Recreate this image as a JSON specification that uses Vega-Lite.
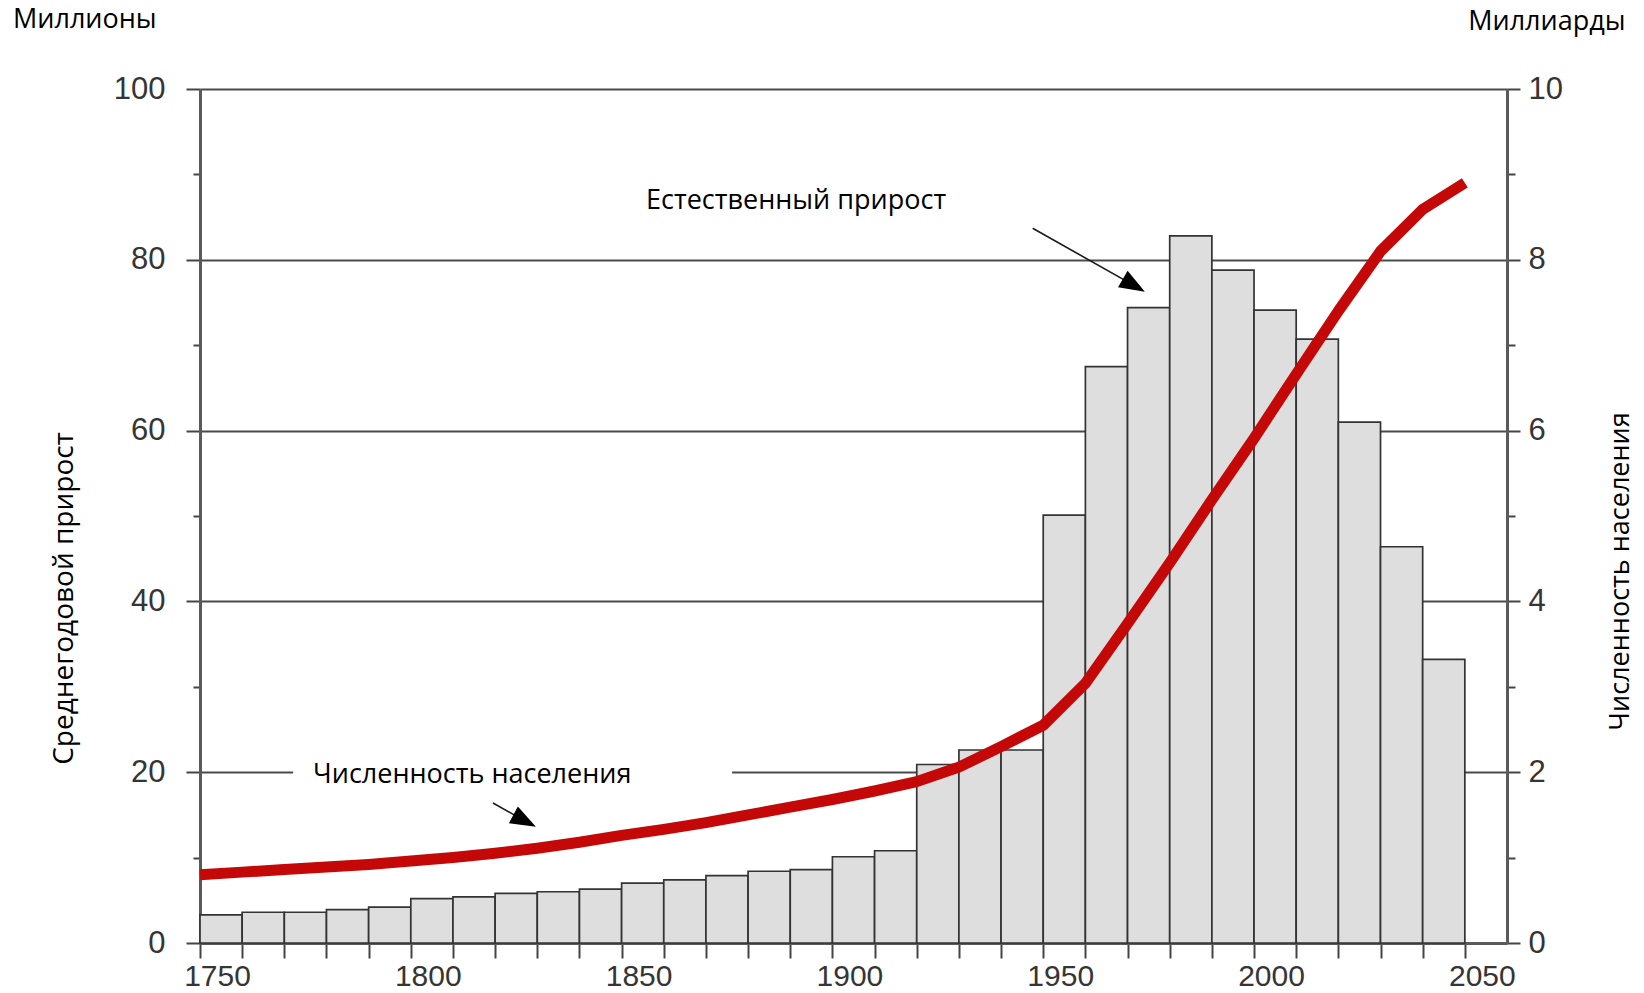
{
  "$schema": "https://vega.github.io/schema/vega-lite/v6.json",
  "width": 1307,
  "height": 854,
  "autosize": {"type": "none"},
  "padding": {"left": 200, "top": 89, "right": 137, "bottom": 50},
  "background": "white",
  "config": {
    "view": {"stroke": null},
    "axis": {
      "labelFont": "Liberation Sans",
      "labelFontSize": 31,
      "labelColor": "#353535",
      "domainColor": "#5a5a5a",
      "domainWidth": 3,
      "tickColor": "#444444",
      "tickWidth": 2,
      "titleFont": "Open Sans",
      "titleFontSize": 27,
      "titleFontWeight": "normal",
      "titleColor": "#000000"
    }
  },
  "title": {
    "text": "Миллионы",
    "anchor": "start",
    "frame": "group",
    "orient": "top",
    "dx": -187,
    "offset": -48,
    "baseline": "alphabetic",
    "font": "Open Sans",
    "fontSize": 27,
    "fontWeight": "normal",
    "color": "#000000"
  },
  "datasets": {
    "growth": [
      {"start": 1750, "end": 1760, "growth": 3.3},
      {"start": 1760, "end": 1770, "growth": 3.6},
      {"start": 1770, "end": 1780, "growth": 3.6},
      {"start": 1780, "end": 1790, "growth": 3.9},
      {"start": 1790, "end": 1800, "growth": 4.2},
      {"start": 1800, "end": 1810, "growth": 5.2},
      {"start": 1810, "end": 1820, "growth": 5.4},
      {"start": 1820, "end": 1830, "growth": 5.8},
      {"start": 1830, "end": 1840, "growth": 6.0},
      {"start": 1840, "end": 1850, "growth": 6.3},
      {"start": 1850, "end": 1860, "growth": 7.0},
      {"start": 1860, "end": 1870, "growth": 7.4},
      {"start": 1870, "end": 1880, "growth": 7.9},
      {"start": 1880, "end": 1890, "growth": 8.4},
      {"start": 1890, "end": 1900, "growth": 8.6},
      {"start": 1900, "end": 1910, "growth": 10.1},
      {"start": 1910, "end": 1920, "growth": 10.8},
      {"start": 1920, "end": 1930, "growth": 20.9},
      {"start": 1930, "end": 1940, "growth": 22.6},
      {"start": 1940, "end": 1950, "growth": 22.6},
      {"start": 1950, "end": 1960, "growth": 50.1},
      {"start": 1960, "end": 1970, "growth": 67.5},
      {"start": 1970, "end": 1980, "growth": 74.4},
      {"start": 1980, "end": 1990, "growth": 82.8},
      {"start": 1990, "end": 2000, "growth": 78.8},
      {"start": 2000, "end": 2010, "growth": 74.1},
      {"start": 2010, "end": 2020, "growth": 70.7},
      {"start": 2020, "end": 2030, "growth": 61.0},
      {"start": 2030, "end": 2040, "growth": 46.4},
      {"start": 2040, "end": 2050, "growth": 33.2}
    ],
    "pop": [
      {"year": 1750, "pop": 0.80},
      {"year": 1760, "pop": 0.83},
      {"year": 1770, "pop": 0.86},
      {"year": 1780, "pop": 0.89},
      {"year": 1790, "pop": 0.92},
      {"year": 1800, "pop": 0.96},
      {"year": 1810, "pop": 1.00},
      {"year": 1820, "pop": 1.05},
      {"year": 1830, "pop": 1.11},
      {"year": 1840, "pop": 1.18},
      {"year": 1850, "pop": 1.26},
      {"year": 1860, "pop": 1.33},
      {"year": 1870, "pop": 1.41},
      {"year": 1880, "pop": 1.50},
      {"year": 1890, "pop": 1.59},
      {"year": 1900, "pop": 1.68},
      {"year": 1910, "pop": 1.78},
      {"year": 1920, "pop": 1.89},
      {"year": 1930, "pop": 2.06},
      {"year": 1940, "pop": 2.30},
      {"year": 1950, "pop": 2.55},
      {"year": 1960, "pop": 3.04},
      {"year": 1970, "pop": 3.74},
      {"year": 1980, "pop": 4.45},
      {"year": 1990, "pop": 5.19},
      {"year": 2000, "pop": 5.91},
      {"year": 2010, "pop": 6.66},
      {"year": 2020, "pop": 7.40},
      {"year": 2030, "pop": 8.10},
      {"year": 2040, "pop": 8.59},
      {"year": 2050, "pop": 8.90}
    ],
    "notes": [
      {"label": "Естественный прирост", "nx": 1855.8, "ny": 85.9},
      {"label": "Численность населения", "nx": 1776.8, "ny": 18.7}
    ],
    "box": [
      {"bx1": 1772.1, "bx2": 1876.2, "by1": 16.4, "by2": 21.8}
    ],
    "arrows": [
      {"arrow": "a", "ax1": 1947.5, "ay1": 83.7, "ax2": 1971.5, "ay2": 77.0},
      {"arrow": "b", "ax1": 1819.5, "ay1": 16.4, "ax2": 1827.0, "ay2": 14.3}
    ]
  },
  "layer": [
    {
      "layer": [
        {
          "data": {"name": "growth"},
          "mark": {"type": "rect", "fill": "#dedede", "stroke": "#333333", "strokeWidth": 1.7},
          "encoding": {
            "x": {
              "field": "start",
              "type": "quantitative",
              "scale": {"domain": [1750, 2060], "nice": false, "zero": false},
              "axis": {
                "orient": "bottom",
                "values": [1750, 1760, 1770, 1780, 1790, 1800, 1810, 1820, 1830, 1840, 1850, 1860, 1870, 1880, 1890, 1900, 1910, 1920, 1930, 1940, 1950, 1960, 1970, 1980, 1990, 2000, 2010, 2020, 2030, 2040, 2050],
                "format": "d",
                "labelExpr": "datum.value % 50 === 0 ? datum.label : ''",
                "labelOffset": 17,
                "labelPadding": 3,
                "labelFontSize": 30,
                "tickSize": 15,
                "grid": false,
                "labelFlush": false,
                "labelOverlap": false,
                "title": "Миллиарды",
                "titleX": 1425,
                "titleY": -914,
                "titleAlign": "right",
                "titleBaseline": "alphabetic",
                "titleAngle": 0
              }
            },
            "x2": {"field": "end"},
            "y": {
              "field": "growth",
              "type": "quantitative",
              "scale": {"domain": [0, 100], "nice": false},
              "axis": {
                "orient": "left",
                "values": [0, 10, 20, 30, 40, 50, 60, 70, 80, 90, 100],
                "labelExpr": "datum.value % 20 === 0 ? datum.label : ''",
                "tickSize": {"condition": {"test": "datum.value % 20 === 0", "value": 14}, "value": 7},
                "labelPadding": 21,
                "labelFlush": false,
                "labelOverlap": false,
                "grid": true,
                "gridColor": "#4a4a4a",
                "gridWidth": 2,
                "gridOpacity": {"condition": {"test": "datum.value % 20 === 0", "value": 1}, "value": 0},
                "title": "Среднегодовой прирост",
                "titleFontSize": 28,
                "titleAngle": 270,
                "titleX": -128,
                "titleY": 509,
                "titleAlign": "center",
                "titleBaseline": "alphabetic"
              }
            },
            "y2": {"datum": 0}
          }
        },
        {
          "data": {"name": "box"},
          "mark": {"type": "rect", "fill": "#ffffff"},
          "encoding": {
            "x": {"field": "bx1", "type": "quantitative"},
            "x2": {"field": "bx2"},
            "y": {"field": "by1", "type": "quantitative"},
            "y2": {"field": "by2"}
          }
        },
        {
          "data": {"name": "arrows"},
          "mark": {"type": "rule", "color": "#1a1a1a", "strokeWidth": 1.6},
          "encoding": {
            "x": {"field": "ax1", "type": "quantitative"},
            "y": {"field": "ay1", "type": "quantitative"},
            "x2": {"field": "ax2"},
            "y2": {"field": "ay2"}
          }
        },
        {
          "data": {"name": "arrows"},
          "transform": [{"filter": "datum.arrow === 'a'"}],
          "mark": {"type": "point", "shape": "M-1,-0.75L1,0L-1,0.75Z", "filled": true, "color": "#000000", "opacity": 1, "size": 650, "angle": 30},
          "encoding": {
            "x": {"field": "ax2", "type": "quantitative"},
            "y": {"field": "ay2", "type": "quantitative"}
          }
        },
        {
          "data": {"name": "arrows"},
          "transform": [{"filter": "datum.arrow === 'b'"}],
          "mark": {"type": "point", "shape": "M-1,-0.75L1,0L-1,0.75Z", "filled": true, "color": "#000000", "opacity": 1, "size": 650, "angle": 28},
          "encoding": {
            "x": {"field": "ax2", "type": "quantitative"},
            "y": {"field": "ay2", "type": "quantitative"}
          }
        },
        {
          "data": {"name": "notes"},
          "mark": {"type": "text", "align": "left", "baseline": "alphabetic", "font": "Open Sans", "fontSize": 27, "color": "#000000"},
          "encoding": {
            "x": {"field": "nx", "type": "quantitative"},
            "y": {"field": "ny", "type": "quantitative"},
            "text": {"field": "label"}
          }
        }
      ]
    },
    {
      "data": {"name": "pop"},
      "mark": {"type": "line", "color": "#c40808", "strokeWidth": 11, "strokeJoin": "round", "strokeCap": "butt"},
      "encoding": {
        "x": {"field": "year", "type": "quantitative"},
        "y": {
          "field": "pop",
          "type": "quantitative",
          "scale": {"domain": [0, 10], "nice": false},
          "axis": {
            "orient": "right",
            "values": [0, 1, 2, 3, 4, 5, 6, 7, 8, 9, 10],
            "labelExpr": "datum.value % 2 === 0 ? datum.label : ''",
            "tickSize": {"condition": {"test": "datum.value % 2 === 0", "value": 13}, "value": 8},
            "labelPadding": 8,
            "labelFlush": false,
            "labelOverlap": false,
            "grid": false,
            "title": "Численность населения",
            "titleAngle": 270,
            "titleX": 121,
            "titleY": 482,
            "titleAlign": "center",
            "titleBaseline": "alphabetic"
          }
        }
      }
    }
  ],
  "resolve": {"scale": {"y": "independent"}}
}
